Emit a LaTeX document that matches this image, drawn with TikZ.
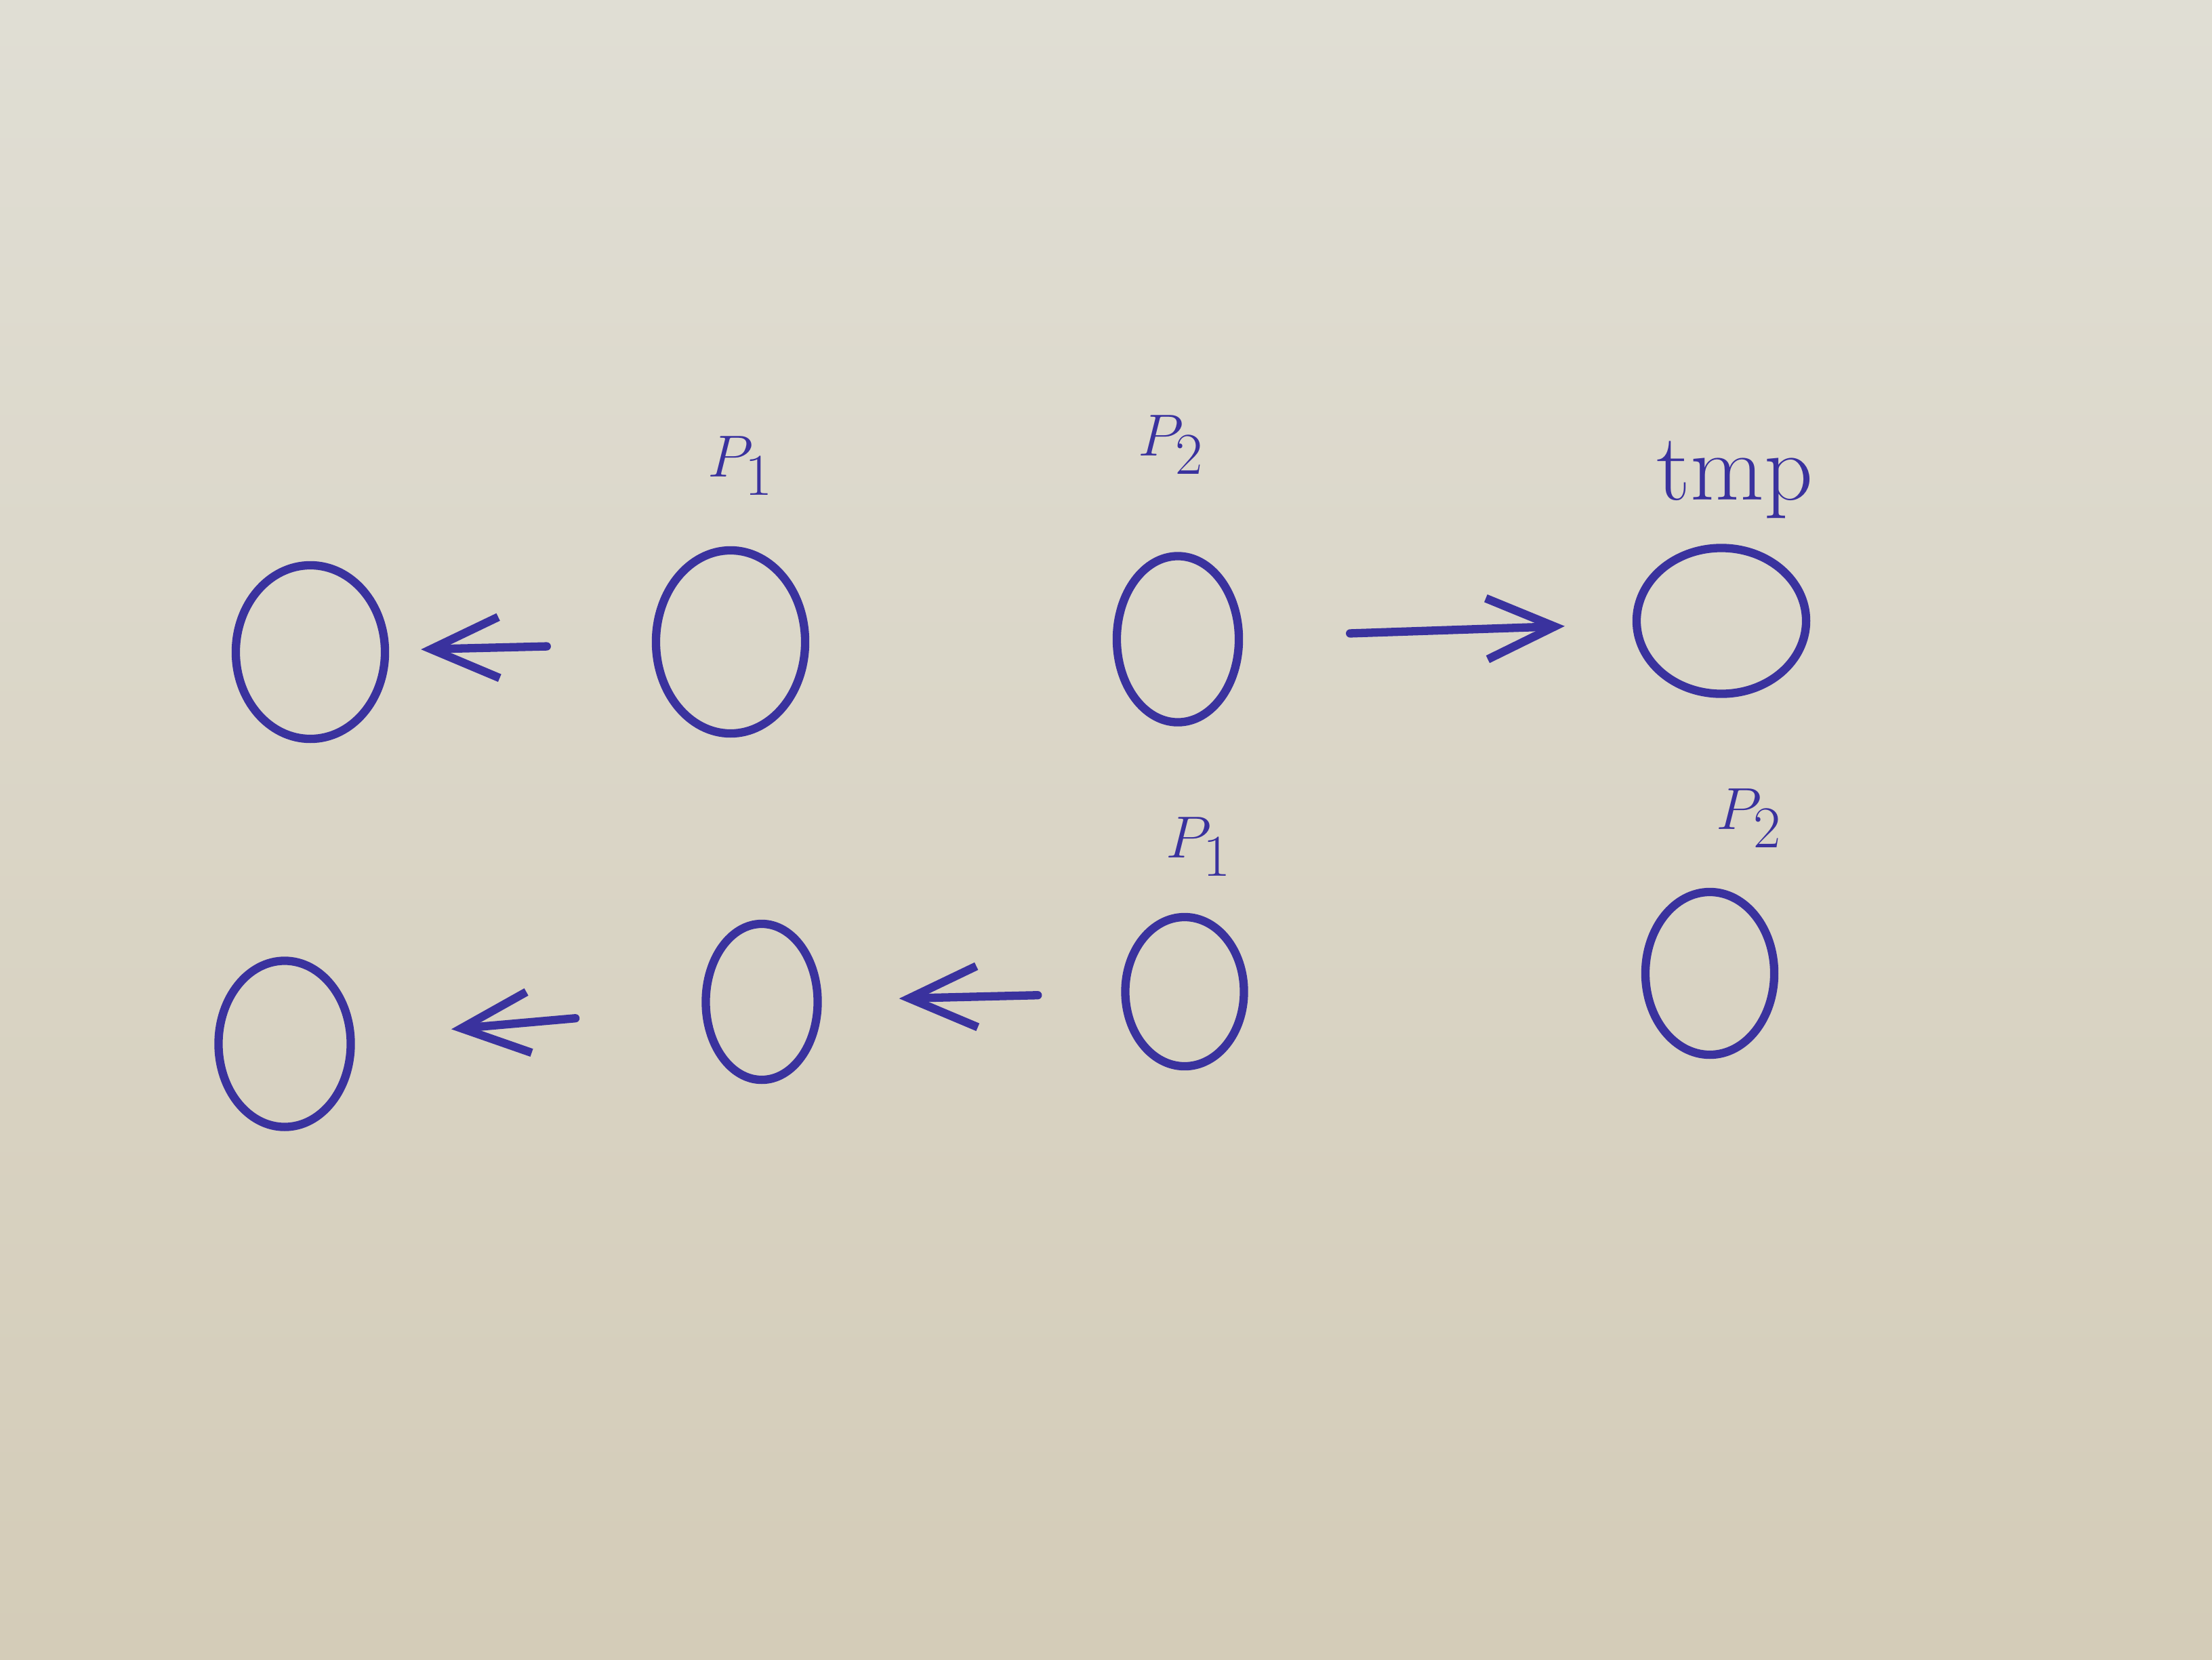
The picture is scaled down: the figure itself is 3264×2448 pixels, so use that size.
\documentclass[tikz,border=0pt]{standalone}
\usetikzlibrary{shapes.geometric,arrows.meta}
\definecolor{pen}{RGB}{58,50,158}
\definecolor{papertop}{RGB}{224,222,212}
\definecolor{paperbot}{RGB}{212,204,184}

\begin{document}
\begin{tikzpicture}[x=0.01cm,y=-0.01cm,line width=3.5pt,draw=pen,text=pen,
  every node/.style={font=\fontsize{40}{48}\selectfont},
  ring/.style={ellipse,draw,inner sep=0pt},
  link/.style={-{Straight Barb[length=10mm,width=9mm]},line cap=round}]
  \shade[top color=papertop,bottom color=paperbot] (0,0) rectangle (3264,2448);

  % upper row
  \node[ring,minimum width=2.2cm,minimum height=2.56cm] (u1) at (458,962) {};
  \node[ring,minimum width=2.2cm,minimum height=2.7cm] (u2) at (1078,947) {};
  \node[ring,minimum width=1.8cm,minimum height=2.45cm] (u3) at (1738,943) {};
  \node[ring,minimum width=2.5cm,minimum height=2.15cm] (u4) at (2540,916) {};
  \node (up1) at (1093,687) {$P_1$};
  \node (up2) at (1728,656) {$P_2$};
  \node (utmp) at (2560,708) {tmp};

  % lower row
  \node[ring,minimum width=1.95cm,minimum height=2.45cm] (l1) at (420,1540) {};
  \node[ring,minimum width=1.65cm,minimum height=2.3cm] (l2) at (1124,1478) {};
  \node[ring,minimum width=1.75cm,minimum height=2.2cm] (l3) at (1748,1463) {};
  \node[ring,minimum width=1.9cm,minimum height=2.4cm] (l4) at (2523,1436) {};
  \node (lp1) at (1769,1249) {$P_1$};
  \node (lp2) at (2581,1207) {$P_2$};

  \draw[link,shorten <=1.55cm,shorten >=0.47cm] (u2) -- (u1);
  \draw[link,shorten <=1.58cm,shorten >=1cm] (u3) -- (u4);
  \draw[link,shorten <=1.87cm,shorten >=1.43cm] (l2) -- (l1);
  \draw[link,shorten <=1.23cm,shorten >=1.14cm] (l3) -- (l2);
\end{tikzpicture}
\end{document}
